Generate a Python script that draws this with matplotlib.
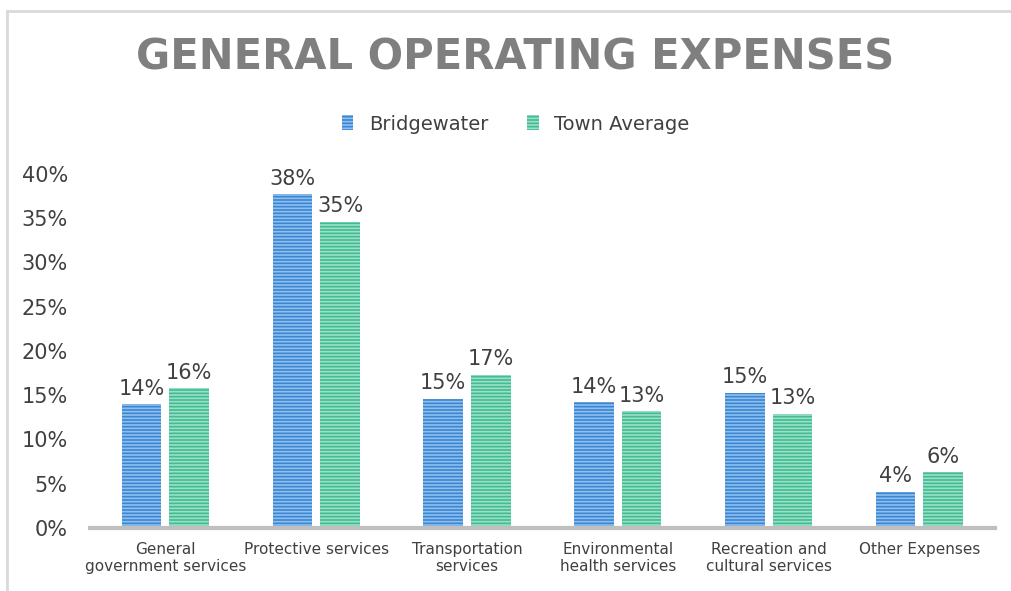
import matplotlib.pyplot as plt
import numpy as np
from matplotlib.lines import Line2D

categories = ["General\ngovernment services", "Protective services", "Transportation\nservices",
              "Environmental\nhealth services", "Recreation and\ncultural services", "Other Expenses"]
bridgewater = [14.0, 37.7, 14.6, 14.2, 15.3, 4.1]
town_average = [15.8, 34.6, 17.3, 13.2, 12.9, 6.3]
series = {
    "Bridgewater": (bridgewater, "#3b86d3", "#8fbfee"),
    "Town Average": (town_average, "#42bd93", "#9be0c6"),
}

plt.rcParams['hatch.linewidth'] = 1.2

fig = plt.figure(figsize=(10.11, 5.91), dpi=100)
ax = fig.add_axes([0.089, 0.1066, 0.895, 0.599])

x = np.arange(len(categories))
width = 0.263
gap = 0.053
offsets = [-(width + gap) / 2, (width + gap) / 2]
handles = []
for (label, (vals, color, light)), off in zip(series.items(), offsets):
    rects = ax.bar(x + off, vals, width, color=color, edgecolor=light, linewidth=0,
                   hatch='-----', label=label)
    ax.bar_label(rects, labels=[f"{v:.0f}%" for v in vals], padding=4,
                 fontsize=15, color="#404040")
    handles.append(rects)

ax.set_xlim(-0.5, len(categories) - 0.5)
ax.set_ylim(0, 40)
ax.set_yticks(np.arange(0, 41, 5))
ax.set_yticklabels([f"{v}%" for v in range(0, 41, 5)], fontsize=15, color="#404040")
ax.set_xticks(x)
ax.set_xticklabels(categories, fontsize=11, color="#404040")
ax.tick_params(axis='both', length=0)
ax.tick_params(axis='x', pad=10)
ax.tick_params(axis='y', pad=16)
for s in ['top', 'right', 'left']:
    ax.spines[s].set_visible(False)
ax.spines['bottom'].set_color("#bfbfbf")
ax.spines['bottom'].set_linewidth(3)

fig.text(0.51, 0.903, "GENERAL OPERATING EXPENSES", ha='center', va='center',
         fontsize=30, fontweight='bold', color="#7f7f7f")
fig.legend(handles=handles, loc='center', bbox_to_anchor=(0.51, 0.79), ncols=2,
           frameon=False, fontsize=14, handlelength=0.6, handleheight=0.8,
           columnspacing=2.0, handletextpad=0.8, labelcolor="#404040")

# chart frame border (left and top edges visible)
fig.add_artist(Line2D([7 / 1011, 7 / 1011], [0, 1 - 11 / 591], color="#d9d9d9", lw=2))
fig.add_artist(Line2D([7 / 1011, 1], [1 - 11 / 591, 1 - 11 / 591], color="#d9d9d9", lw=2))

fig.savefig("out.png", dpi=100)
